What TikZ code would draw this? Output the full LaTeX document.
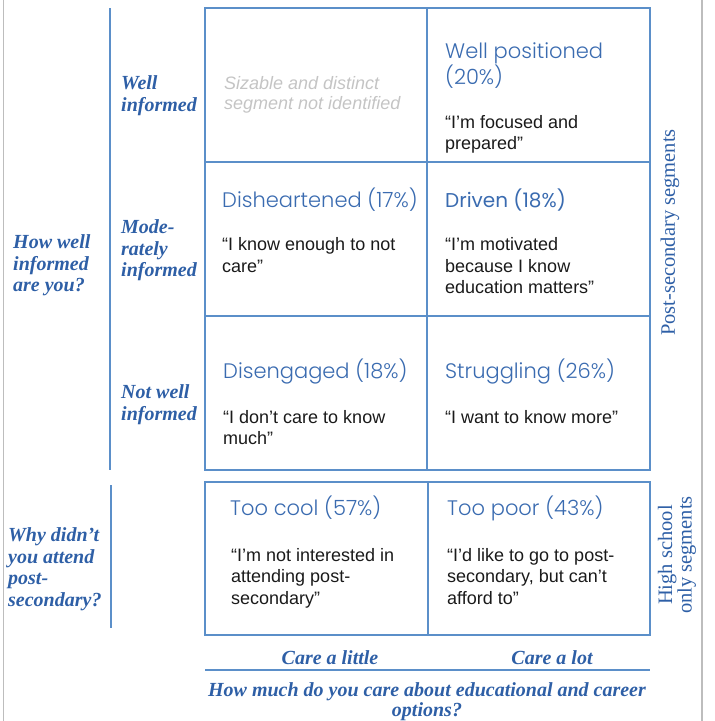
\documentclass[tikz,border=0pt]{standalone}
\usepackage{fontspec}
\setmainfont{Liberation Sans}
\newfontfamily\labfont{Liberation Serif}
\newfontfamily\sidefont{Liberation Serif}
\newfontfamily\titlefont{Poppins Light}
\newfontfamily\titlefontreg{Poppins}
\definecolor{gridblue}{HTML}{5B8FC9}
\definecolor{labblue}{HTML}{2E5FA6}
\definecolor{titleblue}{HTML}{3A6BB0}
\definecolor{quoteblack}{HTML}{1A1A1A}
\definecolor{faint}{HTML}{C4C4C4}
\definecolor{framegray}{HTML}{BDBDBD}
\tikzset{
  gridline/.style={draw=gridblue, line width=1.2pt},
  frameline/.style={draw=framegray, line width=1.5pt},
  rowlab/.style={inner sep=0pt, anchor=north west, align=left, text=labblue,
    font=\labfont\bfseries\itshape\fontsize{20}{21.5}\selectfont},
  axislab/.style={inner sep=0pt, text=labblue,
    font=\labfont\bfseries\itshape\fontsize{20}{20}\selectfont},
  segtitle/.style={inner sep=0pt, anchor=base west, align=left, text=titleblue,
    font=\titlefont\fontsize{21}{25}\selectfont},
  segtitlebold/.style={inner sep=0pt, anchor=base west, align=left, text=titleblue,
    font=\titlefontreg\fontsize{20}{25}\selectfont},
  quotetext/.style={inner sep=0pt, anchor=north west, align=left, text=quoteblack,
    font=\fontsize{18}{21.5}\selectfont},
  greytext/.style={inner sep=0pt, anchor=north west, align=left, text=faint,
    font=\itshape\fontsize{18}{20}\selectfont},
  sidelab/.style={inner sep=0pt, text=labblue, rotate=90, align=center,
    font=\sidefont\fontsize{20.5}{16.5}\selectfont},
}
\begin{document}
\begin{tikzpicture}[x=1pt, y=-1pt]
\useasboundingbox (0,0) rectangle (715,721);
% outer grey frame lines
\draw[frameline] (3.5,0) -- (3.5,721);
\draw[frameline] (702,0) -- (702,721);
% post-secondary grid
\draw[gridline] (205,8) rectangle (427,162);
\draw[gridline] (427,8) rectangle (650,162);
\draw[gridline] (205,162) rectangle (427,316);
\draw[gridline] (427,162) rectangle (650,316);
\draw[gridline] (205,316) rectangle (427,470);
\draw[gridline] (427,316) rectangle (650,470);
% high school grid
\draw[gridline] (205,482) rectangle (428,635);
\draw[gridline] (428,482) rectangle (650,635);
% left separator lines
\draw[gridline] (110,8) -- (110,470);
\draw[gridline] (111,485) -- (111,628);
% bottom axis line
\draw[gridline] (205,670) -- (650,670);

% row labels
\node[rowlab] (rwell) at (121,75.5) {Well\\informed};
\node[rowlab] (rmod) at (121,219.5) {Mode-\\rately\\informed};
\node[rowlab] (rnot) at (121,384.5) {Not well\\informed};
\node[rowlab] (qhow) at (13,234.5) {How well\\informed\\are you?};
\node[rowlab] (qwhy) at (8,527.5) {Why didn’t\\you attend\\post-\\secondary?};

% cells
\node[greytext] (sizable) at (224,76) {Sizable and distinct\\segment not identified};

\node[segtitle, anchor=north west] (twell) at (445,42.5) {Well positioned\\(20\%)};
\node[quotetext] (qwell) at (445,115) {“I’m focused and\\prepared”};

\node[segtitle] (tdis) at (222,207) {Disheartened (17\%)};
\node[quotetext] (qdis) at (222,237.5) {“I know enough to not\\care”};

\node[segtitlebold] (tdri) at (445,207) {Driven (18\%)};
\node[quotetext] (qdri) at (445,237.5) {“I’m motivated\\because I know\\education matters”};

\node[segtitle] (teng) at (223,378) {Disengaged (18\%)};
\node[quotetext] (qeng) at (223,410) {“I don’t care to know\\much”};

\node[segtitle] (tstr) at (445,378) {Struggling (26\%)};
\node[quotetext] (qstr) at (445,410) {“I want to know more”};

\node[segtitle] (tcool) at (230,515) {Too cool (57\%)};
\node[quotetext] (qcool) at (231,548) {“I’m not interested in\\attending post-\\secondary”};

\node[segtitle] (tpoor) at (447,515) {Too poor (43\%)};
\node[quotetext] (qpoor) at (447,548) {“I’d like to go to post-\\secondary, but can’t\\afford to”};

% axis labels
\node[axislab, anchor=base] (little) at (330,664) {Care a little};
\node[axislab, anchor=base] (lot) at (552,664) {Care a lot};
\node[axislab, anchor=north, align=center] (howmuch) at (427,682.5) {How much do you care about educational and career\\options?};

% side labels
\node[sidelab] (post) at (670,232.5) {Post-secondary segments};
\node[sidelab] (hs) at (677,555) {High school\\only segments};
\end{tikzpicture}
\end{document}
